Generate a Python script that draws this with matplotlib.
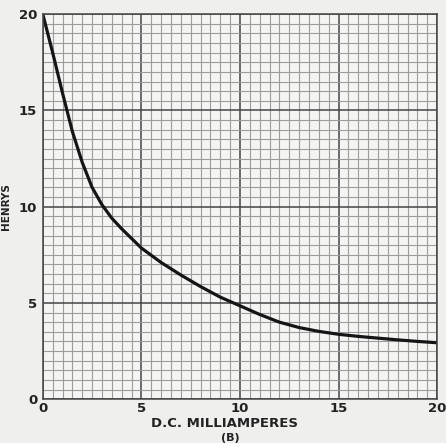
import numpy as np
import matplotlib.pyplot as plt

# D.C. milliamperes vs henrys
ma = [0, 0.5, 1.0, 1.5, 2.0, 2.5, 3.0, 3.5, 4.0, 4.5, 5, 6, 7, 8, 9, 10, 11, 12, 13, 14, 15, 16, 17, 18, 19, 20]
henrys = [20, 18.0, 15.9, 13.9, 12.3, 11.0, 10.1, 9.4, 8.85, 8.35, 7.85, 7.1, 6.45, 5.85, 5.3, 4.85, 4.4, 4.0, 3.72, 3.52, 3.37, 3.26, 3.17, 3.08, 3.0, 2.93]
xticks = [0, 5, 10, 15, 20]
yticks = [0, 5, 10, 15, 20]

fig = plt.figure(figsize=(4.46, 4.43), dpi=100)
fig.patch.set_facecolor('#efefed')
ax = fig.add_axes([0.096, 0.099, 0.884, 0.869])
ax.set_facecolor('#f4f4f2')

ax.set_xlim(0, 20)
ax.set_ylim(0, 20)
ax.set_xticks(xticks)
ax.set_yticks(yticks)
ax.set_xticks(np.arange(0, 20.01, 0.5), minor=True)
ax.set_yticks(np.arange(0, 20.01, 0.5), minor=True)
ax.grid(which='minor', color='#9c9c9c', lw=0.8)
ax.grid(which='major', color='#454545', lw=1.1)
ax.tick_params(which='both', length=0)
ax.tick_params(axis='x', pad=2)
ax.tick_params(axis='y', pad=4)
for s in ax.spines.values():
    s.set_color('#454545')
    s.set_linewidth(1.1)

for lab in ax.get_xticklabels() + ax.get_yticklabels():
    lab.set_fontweight('bold')
    lab.set_fontsize(9.5)
    lab.set_color('#222222')

ax.plot(ma, henrys, color='#151515', lw=2.3, solid_capstyle='round')

ax.set_ylabel('HENRYS', fontsize=7.5, fontweight='bold', color='#222222', labelpad=6)
fig.text(0.503, 0.044, 'D.C. MILLIAMPERES', ha='center', va='center',
         fontsize=9.5, fontweight='bold', color='#222222')
fig.text(0.516, 0.012, '(B)', ha='center', va='center',
         fontsize=8, fontweight='bold', color='#222222')

fig.savefig('out.png', dpi=100, facecolor=fig.get_facecolor())
